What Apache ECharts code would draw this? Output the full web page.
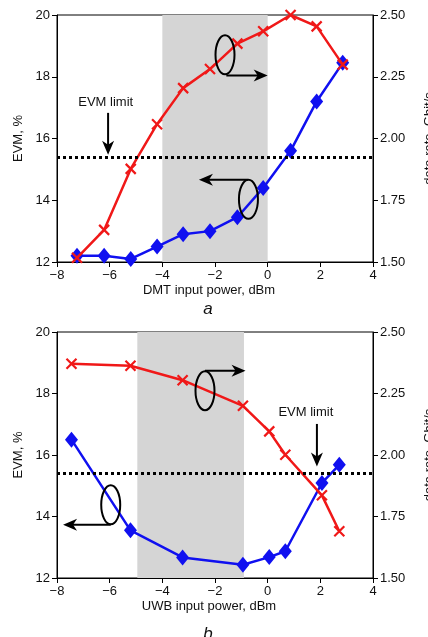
<!DOCTYPE html>
<html>
<head>
<meta charset="utf-8">
<script src="https://cdn.jsdelivr.net/npm/echarts@6/dist/echarts.min.js"></script>
<style>html,body{margin:0;padding:0;background:#fff}#chart{width:428px;height:637px}</style>
</head>
<body>
<div id="chart"></div>
<script>
// panel a: DMT
var dmtPower = [-7.24, -6.21, -5.2, -4.2, -3.21, -2.19, -1.15, -0.17, 0.87, 1.86, 2.85];
var dmtEvm = [12.2, 12.2, 12.1, 12.5, 12.9, 13.0, 13.45, 14.4, 15.6, 17.2, 18.45];
var dmtRate = [1.517, 1.63, 1.877, 2.058, 2.204, 2.281, 2.384, 2.434, 2.50, 2.454, 2.299];
// panel b: UWB
var uwbPower = [-7.45, -5.21, -3.23, -0.94, 0.06, 0.67, 2.06, 2.72];
var uwbEvm = [16.5, 13.55, 12.67, 12.43, 12.68, 12.87, 15.09, 15.68];
var uwbRate = [2.371, 2.363, 2.304, 2.20, 2.096, 2.001, 1.836, 1.69];
var evmLimit = 15.4;
var dmtBand = [-4, 0];
var uwbBand = [-4.95, -0.9];
var xTicks = [-8, 4, 2];      // min, max, step
var evmTicks = [12, 20, 2];
var rateTicks = [1.5, 2.5, 0.25];

var FONT = '"Liberation Sans", Arial, sans-serif';
var RED = '#f01818', BLUE = '#1010f0';

function zip(a, b) { return a.map(function (v, i) { return [v, b[i]]; }); }
function minus(v) { return String(v).replace('-', '\u2212'); }

var div = document.getElementById('chart');
var myChart = echarts.init(div);

function xAxis(gi, name) {
    return {
        type: 'value', gridIndex: gi, min: xTicks[0], max: xTicks[1], interval: xTicks[2],
        name: name, nameLocation: 'middle', nameGap: 22,
        nameTextStyle: { fontFamily: FONT, fontSize: 13, color: '#111', padding: [0, 12, 0, 0] },
        axisLine: { onZero: false, lineStyle: { color: '#000', width: 1 } },
        axisTick: { inside: false, length: 5, lineStyle: { color: '#000' } },
        axisLabel: { fontFamily: FONT, fontSize: 13, color: '#111', margin: 7, formatter: minus },
        splitLine: { show: false }
    };
}
function evmAxis(gi) {
    return {
        type: 'value', gridIndex: gi, position: 'left', min: evmTicks[0], max: evmTicks[1], interval: evmTicks[2],
        name: 'EVM, %', nameLocation: 'middle', nameGap: 32,
        nameTextStyle: { fontFamily: FONT, fontSize: 13, color: '#111' },
        axisLine: { show: true, onZero: false, lineStyle: { color: '#000' } },
        axisTick: { show: true, length: 5, lineStyle: { color: '#000' } },
        axisLabel: { fontFamily: FONT, fontSize: 13, color: '#111', margin: 7 },
        splitLine: { show: false }
    };
}
function rateAxis(gi) {
    return {
        type: 'value', gridIndex: gi, position: 'right', min: rateTicks[0], max: rateTicks[1], interval: rateTicks[2],
        name: 'data rate, Gbit/s', nameLocation: 'middle', nameGap: 50, nameRotate: 90,
        nameTextStyle: { fontFamily: FONT, fontSize: 13, color: '#111' },
        axisLine: { show: true, onZero: false, lineStyle: { color: '#000' } },
        axisTick: { show: true, length: 5, lineStyle: { color: '#000' } },
        axisLabel: { fontFamily: FONT, fontSize: 13, color: '#111', margin: 7,
            formatter: function (v) { return v.toFixed(2); } },
        splitLine: { show: false }
    };
}

var crossSym = 'path://M0,0L10,10M10,0L0,10';

function evmSeries(xi, yi, data, band) {
    return {
        type: 'line', xAxisIndex: xi, yAxisIndex: yi, data: data,
        symbol: 'diamond', symbolSize: [13, 16],
        itemStyle: { color: BLUE }, lineStyle: { color: BLUE, width: 2.5 },
        z: 3, animation: false, silent: true,
        markArea: {
            silent: true, itemStyle: { color: '#d5d5d5' },
            data: [[{ xAxis: band[0] }, { xAxis: band[1] }]]
        },
        markLine: {
            silent: true, symbol: 'none', label: { show: false },
            lineStyle: { color: '#000', type: [3, 3], width: 3 },
            data: [{ yAxis: evmLimit }]
        }
    };
}
function rateSeries(xi, yi, data) {
    return {
        type: 'line', xAxisIndex: xi, yAxisIndex: yi, data: data,
        symbol: crossSym, symbolSize: 10,
        itemStyle: { color: RED, borderColor: RED, borderWidth: 2.2 },
        lineStyle: { color: RED, width: 2.5 },
        z: 4, animation: false, silent: true
    };
}

option = {
    backgroundColor: '#fff',
    animation: false,
    grid: [
        { left: 57, top: 15, width: 316, height: 247, show: true, borderColor: '#000', borderWidth: 1,
          containLabel: false, outerBoundsMode: 'none' },
        { left: 57, top: 332, width: 316, height: 246, show: true, borderColor: '#000', borderWidth: 1,
          containLabel: false, outerBoundsMode: 'none' }
    ],
    xAxis: [xAxis(0, 'DMT input power, dBm'), xAxis(1, 'UWB input power, dBm')],
    yAxis: [evmAxis(0), rateAxis(0), evmAxis(1), rateAxis(1)],
    series: [
        evmSeries(0, 0, zip(dmtPower, dmtEvm), dmtBand),
        rateSeries(0, 1, zip(dmtPower, dmtRate)),
        evmSeries(1, 2, zip(uwbPower, uwbEvm), uwbBand),
        rateSeries(1, 3, zip(uwbPower, uwbRate))
    ]
};
myChart.setOption(option);

// annotation decorations, positioned in data coordinates of each panel
function px(panel, x, y) {
    return myChart.convertToPixel({ xAxisIndex: panel, yAxisIndex: panel * 2 }, [x, y]);
}
function ellipse(p) {
    return { type: 'ellipse', shape: { cx: p[0], cy: p[1], rx: 9.5, ry: 19.5 },
        style: { fill: 'none', stroke: '#000', lineWidth: 2 }, z: 10 };
}
function hArrow(a, b) {
    var dir = b[0] > a[0] ? 1 : -1, tip = b[0], y = a[1];
    return [
        { type: 'line', shape: { x1: a[0], y1: y, x2: tip - dir * 8, y2: y },
          style: { stroke: '#000', lineWidth: 2 }, z: 10 },
        { type: 'polygon', shape: { points: [[tip, y], [tip - dir * 14, y - 6], [tip - dir * 10, y], [tip - dir * 14, y + 6]] },
          style: { fill: '#000' }, z: 10 }
    ];
}
function vArrow(a, b) {
    var x = a[0], tip = b[1];
    return [
        { type: 'line', shape: { x1: x, y1: a[1], x2: x, y2: tip - 8 },
          style: { stroke: '#000', lineWidth: 2 }, z: 10 },
        { type: 'polygon', shape: { points: [[x, tip], [x - 6, tip - 14], [x, tip - 10], [x + 6, tip - 14]] },
          style: { fill: '#000' }, z: 10 }
    ];
}
function label(p, text, size, italic) {
    return { type: 'text', x: p[0], y: p[1], z: 10,
        style: { text: text, fill: '#111', font: (italic ? 'italic ' : '') + size + 'px ' + FONT,
            textAlign: 'center', textVerticalAlign: 'middle' } };
}

var g = [];
// panel a
g.push(ellipse(px(0, -1.62, 18.71)));
g = g.concat(hArrow(px(0, -1.57, 18.04), px(0, 0.0, 18.04)));
g.push(ellipse(px(0, -0.73, 14.03)));
g = g.concat(hArrow(px(0, -0.75, 14.66), px(0, -2.61, 14.66)));
g.push(label(px(0, -6.15, 17.16), 'EVM limit', 13));
g = g.concat(vArrow(px(0, -6.06, 16.83), px(0, -6.06, 15.47)));
// panel b
g.push(ellipse(px(1, -2.38, 18.09)));
g = g.concat(hArrow(px(1, -2.38, 18.74), px(1, -0.84, 18.74)));
g.push(ellipse(px(1, -5.96, 14.38)));
g = g.concat(hArrow(px(1, -5.96, 13.73), px(1, -7.77, 13.73)));
g.push(label(px(1, 1.45, 17.39), 'EVM limit', 13));
g = g.concat(vArrow(px(1, 1.87, 17.01), px(1, 1.87, 15.63)));
// panel letters
g.push(label([208, 309], 'a', 17, true));
g.push(label([208, 634], 'b', 17, true));

myChart.setOption({ graphic: g });
</script>
</body>
</html>
